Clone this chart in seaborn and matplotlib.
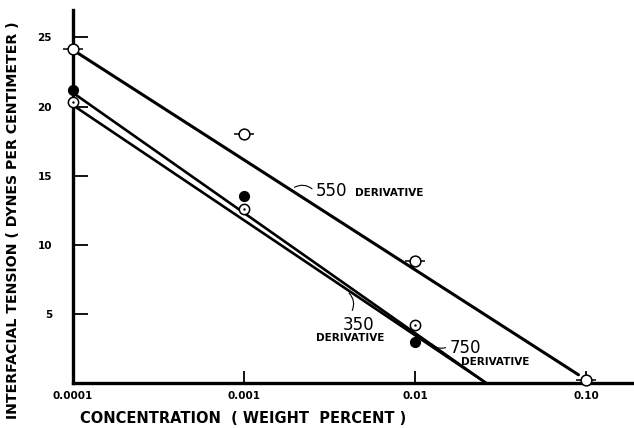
import numpy as np
import pandas as pd
import matplotlib
matplotlib.use("Agg")
import matplotlib.pyplot as plt
import seaborn as sns

# ---- data ----
conc = [0.0001, 0.001, 0.01, 0.10]
ift_550 = [24.2, 18.0, 8.8, 0.2]
conc_small = [0.0001, 0.001, 0.01]
ift_350 = [20.3, 12.6, 4.2]
ift_750 = [21.2, 13.5, 3.0]

# fitted lines (endpoints)
fit550_x = [0.0001, 0.09]
fit550_y = [24.1, 0.6]
fit750_x = [0.0001, 0.026]
fit750_y = [21.0, 0.0]
fit350_x = [0.0001, 0.026]
fit350_y = [20.1, 0.0]

xticks = [0.0001, 0.001, 0.01, 0.10]
xticklabels = ["0.0001", "0.001", "0.01", "0.10"]
yticks = [5, 10, 15, 20, 25]

sns.set_style("ticks")
plt.rcParams['font.family'] = ['DejaVu Sans']
plt.rcParams['text.color'] = 'black'
plt.rcParams['axes.labelcolor'] = 'black'
plt.rcParams['xtick.color'] = 'black'
plt.rcParams['ytick.color'] = 'black'
plt.rcParams['axes.edgecolor'] = 'black'

fig = plt.figure(figsize=(6.34, 4.28), dpi=100)
ax = fig.add_axes([0.115, 0.105, 0.885, 0.872])

lw = 1.9
sns.lineplot(x=fit550_x, y=fit550_y, ax=ax, color="black", lw=2.2)
sns.lineplot(x=fit750_x, y=fit750_y, ax=ax, color="black", lw=lw)
sns.lineplot(x=fit350_x, y=fit350_y, ax=ax, color="black", lw=lw)

# 550 : open circle with horizontal bar
sns.scatterplot(x=conc, y=ift_550, ax=ax, marker="_", s=220, color="black",
                linewidth=1.1, clip_on=False, zorder=5)
sns.scatterplot(x=conc, y=ift_550, ax=ax, marker="o", s=60, facecolor="white",
                edgecolor="black", linewidth=1.1, clip_on=False, zorder=6)
# 350 : circle with center dot
sns.scatterplot(x=conc_small, y=ift_350, ax=ax, marker="o", s=55, facecolor="white",
                edgecolor="black", linewidth=1.1, clip_on=False, zorder=6)
sns.scatterplot(x=conc_small, y=ift_350, ax=ax, marker="o", s=3, color="black",
                linewidth=0, clip_on=False, zorder=7)
# 750 : filled circle
sns.scatterplot(x=conc_small, y=ift_750, ax=ax, marker="o", s=65, color="black",
                linewidth=0, clip_on=False, zorder=6)

ax.set_xscale("log")
ax.set_xlim(0.0001, 0.19)
ax.set_ylim(0, 27)
ax.set_xticks(xticks)
ax.set_xticklabels(xticklabels, fontweight="bold")
ax.minorticks_off()
ax.set_yticks(yticks)
ax.set_yticklabels([str(v) for v in yticks], fontweight="bold")
ax.tick_params(axis="y", direction="in", length=11, width=1.3, pad=15, labelsize=7.5)
ax.tick_params(axis="x", direction="in", length=9, width=1.3, pad=6, labelsize=7.5)

for s in ["top", "right"]:
    ax.spines[s].set_visible(False)
ax.spines["left"].set_linewidth(2.4)
ax.spines["bottom"].set_linewidth(2.4)

ax.set_xlabel("CONCENTRATION  ( WEIGHT  PERCENT )", fontsize=10.5, fontweight="bold")
ax.xaxis.set_label_coords(0.303, -0.075)
ax.set_ylabel("INTERFACIAL TENSION ( DYNES PER CENTIMETER )", fontsize=10.2,
              fontweight="bold")
ax.yaxis.set_label_coords(-0.095, 0.437)

# annotations
ax.text(2.64e-3, 13.56, "550", fontsize=12, ha="left", va="baseline")
ax.text(4.46e-3, 13.56, "DERIVATIVE", fontsize=7.5, ha="left", va="baseline",
        fontweight="bold")
ax.annotate("", xy=(1.91e-3, 14.06), xytext=(2.57e-3, 13.92),
            arrowprops=dict(arrowstyle="-", lw=0.8, color="black",
                            connectionstyle="arc3,rad=0.4"))

ax.text(3.79e-3, 3.85, "350", fontsize=12, ha="left", va="baseline")
ax.text(2.64e-3, 3.06, "DERIVATIVE", fontsize=7.5, ha="left", va="baseline",
        fontweight="bold")
ax.annotate("", xy=(4.0e-3, 6.65), xytext=(4.22e-3, 5.07),
            arrowprops=dict(arrowstyle="-", lw=0.8, color="black",
                            connectionstyle="arc3,rad=0.4"))

ax.text(1.60e-2, 2.19, "750", fontsize=12, ha="left", va="baseline")
ax.text(1.86e-2, 1.33, "DERIVATIVE", fontsize=7.5, ha="left", va="baseline",
        fontweight="bold")
ax.annotate("", xy=(1.22e-2, 2.99), xytext=(1.56e-2, 2.63),
            arrowprops=dict(arrowstyle="-", lw=0.8, color="black",
                            connectionstyle="arc3,rad=-0.4"))

fig.savefig("out.png", dpi=100)
